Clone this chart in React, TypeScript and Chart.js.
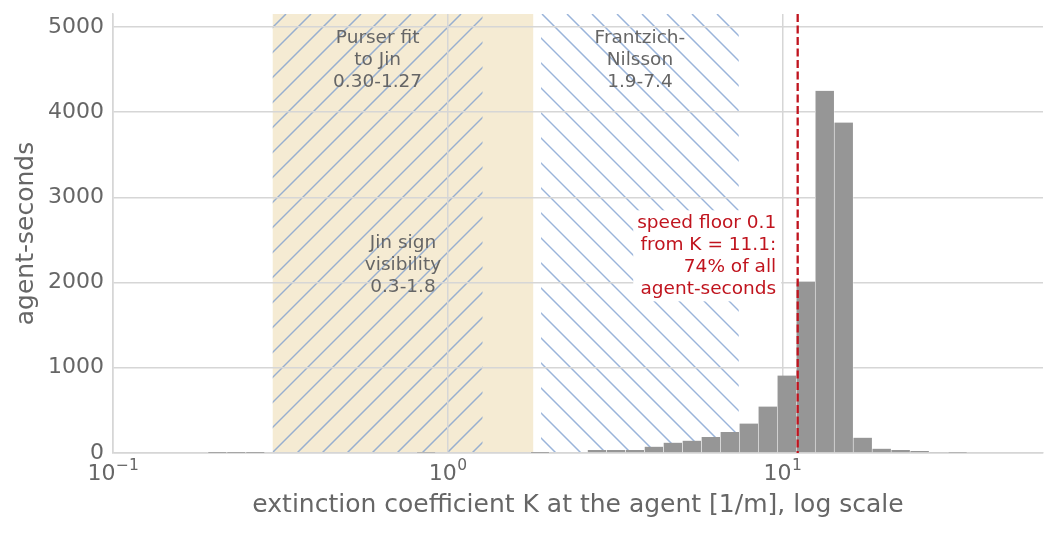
import { useEffect, useRef } from 'react';
import { Chart, registerables } from 'chart.js';

Chart.register(...registerables);

// histogram: 49 log-spaced bins between 0.1 and 60 1/m
const BIN_MIN = 0.1;
const BIN_MAX = 60;
const BIN_COUNT = 49;

// agent-seconds per bin, left to right
const binSeconds = [
  0, 0, 0, 0, 0, 1, 1, 1, 0, 0,
  0, 0, 0, 10, 10, 10, 2, 9, 9, 9,
  8, 8, 1, 8, 8, 35, 35, 35, 74, 121,
  145, 188, 246, 345, 545, 908, 2011, 4249, 3877, 180,
  51, 35, 23, 12, 2, 0, 0, 0, 0,
];

const xTickValues = [0.1, 1, 10];
const xTickBase = '10';
const xTickExp = ['−1', '0', '1'];
const yTickValues = [0, 1000, 2000, 3000, 4000, 5000];
const yMax = 5150;

// literature ranges of K
const regionLabels = [
  ['Jin sign', 'visibility', '0.3-1.8'],
  ['Purser fit', 'to Jin', '0.30-1.27'],
  ['Frantzich-', 'Nilsson', '1.9-7.4'],
];
const regionFrom = [0.3, 0.3, 1.9];
const regionTo = [1.8, 1.27, 7.4];

const floorK = 11.1;
const floorLabel = ['speed floor 0.1', 'from K = 11.1:', '74% of all', 'agent-seconds'];

const FONT = 'DejaVu Sans';
const TEXT = '#666666';
const GRID = '#d6d6d6';
const BEIGE = '#f5ebd3';
const HATCH = 'rgba(120, 155, 205, 0.75)';
const RED = '#c0141e';

function hatch(
  ctx: CanvasRenderingContext2D,
  left: number,
  right: number,
  top: number,
  bottom: number,
  dir: '/' | '\\',
  spacing: number,
  phase: number,
) {
  ctx.save();
  ctx.beginPath();
  ctx.rect(left, top, right - left, bottom - top);
  ctx.clip();
  ctx.strokeStyle = HATCH;
  ctx.lineWidth = 1.5;
  ctx.beginPath();
  if (dir === '/') {
    const start = Math.floor((left + top) / spacing) * spacing + phase - spacing;
    for (let c = start; c <= right + bottom + spacing; c += spacing) {
      ctx.moveTo(c - top, top);
      ctx.lineTo(c - bottom, bottom);
    }
  } else {
    const start = Math.floor((left - bottom) / spacing) * spacing + phase - spacing;
    for (let c = start; c <= right - top + spacing; c += spacing) {
      ctx.moveTo(c + top, top);
      ctx.lineTo(c + bottom, bottom);
    }
  }
  ctx.stroke();
  ctx.restore();
}

function drawLines(ctx: CanvasRenderingContext2D, lines: string[], x: number, cy: number, lh: number) {
  lines.forEach((t, i) => {
    ctx.fillText(t, x, cy + (i - (lines.length - 1) / 2) * lh);
  });
}

const regionsPlugin = {
  id: 'regions',
  beforeDraw(chart: Chart) {
    const { ctx, chartArea: a } = chart;
    const x = chart.scales.x;
    ctx.save();
    const j0 = x.getPixelForValue(regionFrom[0]);
    const j1 = x.getPixelForValue(regionTo[0]);
    ctx.fillStyle = BEIGE;
    ctx.fillRect(j0, a.top, j1 - j0, a.bottom - a.top);
    hatch(ctx, x.getPixelForValue(regionFrom[1]), x.getPixelForValue(regionTo[1]), a.top, a.bottom, '/', 25, 0);
    hatch(ctx, x.getPixelForValue(regionFrom[2]), x.getPixelForValue(regionTo[2]), a.top, a.bottom, '\\', 25, 3);
    ctx.restore();
  },
  afterDatasetsDraw(chart: Chart) {
    const { ctx, chartArea: a } = chart;
    const x = chart.scales.x;
    const h = a.bottom - a.top;
    ctx.save();
    ctx.font = `18.5px "${FONT}"`;
    ctx.textAlign = 'center';
    ctx.textBaseline = 'middle';
    ctx.fillStyle = TEXT;
    const labelY = [a.top + 0.5727 * h, a.top + 0.1045 * h, a.top + 0.1045 * h];
    regionLabels.forEach((lines, i) => {
      const cx = x.getPixelForValue(Math.sqrt(regionFrom[i] * regionTo[i]));
      drawLines(ctx, lines, cx, labelY[i], 22);
    });

    // speed floor marker
    const fx = x.getPixelForValue(floorK);
    const textRight = fx - 21.5;
    const cy = a.top + 0.552 * h;
    const lh = 22;
    const maxW = Math.max(...floorLabel.map((t) => ctx.measureText(t).width));
    const boxTop = cy - ((floorLabel.length - 1) / 2) * lh - 13;
    const boxBottom = cy + ((floorLabel.length - 1) / 2) * lh + 12;
    ctx.fillStyle = '#ffffff';
    ctx.fillRect(textRight - maxW - 4, boxTop, maxW + 9, boxBottom - boxTop);
    ctx.fillStyle = RED;
    ctx.textAlign = 'right';
    drawLines(ctx, floorLabel, textRight, cy, lh);

    ctx.strokeStyle = RED;
    ctx.lineWidth = 2.3;
    ctx.setLineDash([8, 3.5]);
    ctx.beginPath();
    ctx.moveTo(fx, a.top);
    ctx.lineTo(fx, a.bottom);
    ctx.stroke();
    ctx.restore();
  },
  afterDraw(chart: Chart) {
    // x tick labels as 10 with a raised exponent
    const { ctx, chartArea: a } = chart;
    const x = chart.scales.x;
    ctx.save();
    ctx.fillStyle = TEXT;
    ctx.textBaseline = 'alphabetic';
    ctx.textAlign = 'left';
    xTickValues.forEach((v, i) => {
      ctx.font = `22px "${FONT}"`;
      const wb = ctx.measureText(xTickBase).width;
      ctx.font = `15.5px "${FONT}"`;
      const we = ctx.measureText(xTickExp[i]).width;
      const left = x.getPixelForValue(v) - (wb + we) / 2;
      ctx.font = `22px "${FONT}"`;
      ctx.fillText(xTickBase, left, a.bottom + 27);
      ctx.font = `15.5px "${FONT}"`;
      ctx.fillText(xTickExp[i], left + wb + 0.5, a.bottom + 17);
    });
    ctx.restore();
  },
};

export default function App() {
  const canvasRef = useRef<HTMLCanvasElement>(null);
  const chartRef = useRef<Chart | null>(null);

  useEffect(() => {
    document.body.style.margin = '0';
    if (!canvasRef.current) return;
    if (chartRef.current) chartRef.current.destroy();

    const step = (Math.log10(BIN_MAX) - Math.log10(BIN_MIN)) / BIN_COUNT;
    const binCenters = binSeconds.map((_, i) => Math.pow(10, Math.log10(BIN_MIN) + (i + 0.5) * step));

    chartRef.current = new Chart(canvasRef.current, {
      type: 'bar',
      data: {
        datasets: [
          {
            data: binCenters.map((c, i) => ({ x: c, y: binSeconds[i] })),
            backgroundColor: '#969696',
            borderColor: '#ffffff',
            borderWidth: { left: 0.6, right: 0.6, top: 0, bottom: 0 },
            barPercentage: 1,
            categoryPercentage: 1,
          },
        ],
      },
      options: {
        responsive: false,
        animation: false,
        layout: { padding: { left: 0, right: 14, top: 14, bottom: 0 } },
        plugins: {
          legend: { display: false },
          tooltip: { enabled: false },
        },
        scales: {
          x: {
            type: 'logarithmic',
            min: BIN_MIN,
            max: BIN_MAX,
            offset: false,
            grid: { offset: false, color: GRID, lineWidth: 1.5, drawTicks: false },
            border: { display: true, color: GRID, width: 1.5 },
            afterBuildTicks: (scale: any) => {
              scale.ticks = xTickValues.map((v) => ({ value: v }));
            },
            ticks: { display: false },
            title: {
              display: true,
              text: 'extinction coefficient K at the agent [1/m], log scale',
              color: TEXT,
              font: { family: FONT, size: 25 },
              padding: { top: 0, bottom: 13 },
            },
            afterFit: (scale: any) => {
              scale.height = 80;
              scale.paddingLeft = 0;
              scale.paddingRight = 0;
            },
          },
          y: {
            min: 0,
            max: yMax,
            grid: { color: GRID, lineWidth: 1.5, drawTicks: false },
            border: { display: true, color: GRID, width: 1.5 },
            afterBuildTicks: (scale: any) => {
              scale.ticks = yTickValues.map((v) => ({ value: v }));
            },
            ticks: {
              color: TEXT,
              font: { family: FONT, size: 22 },
              padding: 9,
              callback: (v: any) => String(v),
            },
            title: {
              display: true,
              text: 'agent-seconds',
              color: TEXT,
              font: { family: FONT, size: 25 },
              padding: { top: 11.5, bottom: 0 },
            },
            afterFit: (scale: any) => {
              scale.width = 113;
              scale.paddingTop = 0;
              scale.paddingBottom = 0;
            },
          },
        },
      },
      plugins: [regionsPlugin],
    });

    return () => {
      if (chartRef.current) {
        chartRef.current.destroy();
        chartRef.current = null;
      }
    };
  }, []);

  return (
    <div style={{ width: 1057, height: 533 }}>
      <canvas ref={canvasRef} width={1057} height={533} />
    </div>
  );
}
